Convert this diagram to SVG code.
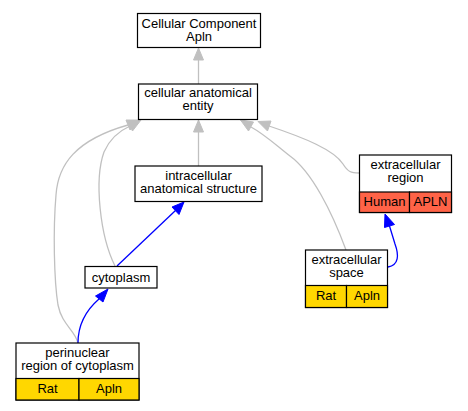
<svg xmlns="http://www.w3.org/2000/svg" width="468" height="411" viewBox="0 0 468 411">
<style>
text{font-family:"Liberation Sans",Arial,sans-serif;font-size:13px;fill:#000;text-anchor:middle}
.box{fill:#fff;stroke:#000;stroke-width:1.2}
.cell{stroke:#000;stroke-width:1.2}
.rat{fill:#ffd700}
.human{fill:#ff6347}
.g{fill:none;stroke:#c0c0c0;stroke-width:1.3}
.b{fill:none;stroke:#0000ff;stroke-width:1.3}
.ga{fill:#c0c0c0;stroke:#c0c0c0}
.ba{fill:#0000ff;stroke:#0000ff}
</style>
<rect width="468" height="411" fill="#fff"/>
<g id="connectors">
<path class="g" d="M198.5,84 L198.5,60"/>
<polygon class="ga" points="198.5,48 203.5,60 193.5,60"/>
<path class="g" d="M198.5,166 L198.5,132"/>
<polygon class="ga" points="198.5,120 203.5,132 193.5,132"/>
<path class="b" d="M117,266 L175.5,210.5"/>
<polygon class="ba" points="184,202 179,214.5 172,207"/>
<path class="g" d="M115,266 C100,236 94,180 104,152 C110,138 119,131 130,126"/>
<polygon class="ga" points="141,120 132.5,131 127.5,121.5"/>
<path class="g" d="M78,343 C75,330 62,325 58,305 C54,280 53,230 56,195 C58,165 75,140 128,125"/>
<polygon class="ga" points="139.5,120 130,130 126,120"/>
<path class="b" d="M78,343 C78,326 84,312 99,299"/>
<polygon class="ba" points="108,289 103,302 95.5,296"/>
<path class="g" d="M346,250 C332,212 312,172 290,156 C276,145 264,134 251,127"/>
<polygon class="ga" points="240.5,120 253.5,122 248.5,131"/>
<path class="g" d="M359,173 C351,173 348,172 343,164 C334,150 305,138 269,126"/>
<polygon class="ga" points="258,121.5 271,121 267.5,131"/>
<path class="b" d="M388,267 C399,265 399,255 395,244 L389.5,226"/>
<polygon class="ba" points="385,214 394.5,224.5 384.5,227.5"/>
</g>
<g id="node-cellular-component">
<rect class="box" x="137.5" y="13.5" width="123" height="34"/>
<text x="199" y="27.5">Cellular Component</text>
<text x="199" y="40.5">Apln</text>
</g>
<g id="node-cellular-anatomical-entity">
<rect class="box" x="138.5" y="84" width="119" height="35.5"/>
<text x="198" y="97">cellular anatomical</text>
<text x="198" y="110">entity</text>
</g>
<g id="node-intracellular">
<rect class="box" x="135" y="166" width="127" height="35.5"/>
<text x="198.5" y="180">intracellular</text>
<text x="198.5" y="193">anatomical structure</text>
</g>
<g id="node-cytoplasm">
<rect class="box" x="85" y="266.5" width="72" height="21.5"/>
<text x="121" y="281.5">cytoplasm</text>
</g>
<g id="node-extracellular-region">
<rect class="box" x="359.5" y="155" width="92" height="57.5"/>
<rect class="cell human" x="359.5" y="192" width="50" height="20.5"/>
<rect class="cell human" x="409.5" y="192" width="42" height="20.5"/>
<text x="405.5" y="169">extracellular</text>
<text x="405.5" y="182">region</text>
<text x="384.5" y="206">Human</text>
<text x="430.5" y="206">APLN</text>
</g>
<g id="node-extracellular-space">
<rect class="box" x="305.5" y="250" width="82" height="57.5"/>
<rect class="cell rat" x="305.5" y="285.5" width="41" height="22"/>
<rect class="cell rat" x="346.5" y="285.5" width="41" height="22"/>
<text x="346.5" y="264">extracellular</text>
<text x="346.5" y="277">space</text>
<text x="326" y="300">Rat</text>
<text x="367" y="300">Apln</text>
</g>
<g id="node-perinuclear">
<rect class="box" x="16" y="343" width="123" height="57"/>
<rect class="cell rat" x="16" y="378.5" width="63" height="21.5"/>
<rect class="cell rat" x="79" y="378.5" width="60" height="21.5"/>
<text x="77.5" y="357">perinuclear</text>
<text x="77.5" y="370">region of cytoplasm</text>
<text x="47.5" y="392.5">Rat</text>
<text x="109" y="392.5">Apln</text>
</g>
</svg>
